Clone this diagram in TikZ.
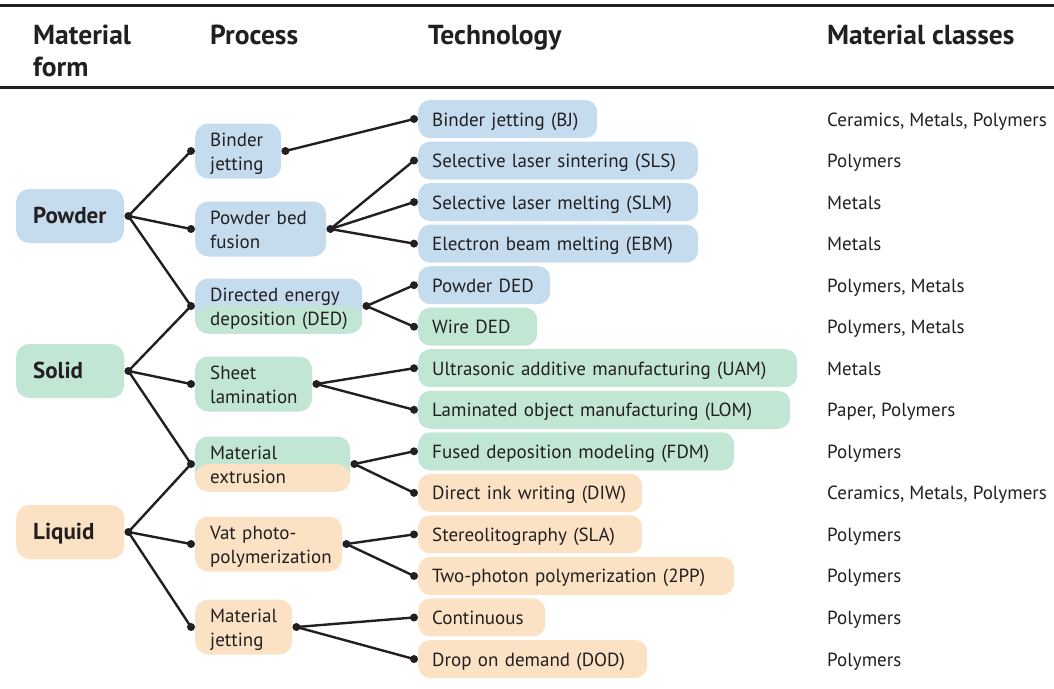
\documentclass[tikz,border=0pt]{standalone}
\usepackage{fontspec}
\setmainfont{PT Sans}
\definecolor{amblue}{RGB}{196,220,238}
\definecolor{amgreen}{RGB}{193,230,212}
\definecolor{amorange}{RGB}{252,226,197}
\definecolor{amtext}{RGB}{35,31,32}
\tikzstyle{rule}=[line width=3pt,draw=amtext]
\tikzstyle{head}=[anchor=north west,inner sep=0pt,align=left,text=amtext,font=\bfseries\fontsize{27.5}{32}\selectfont]
\tikzstyle{formbox}=[anchor=west,rounded corners=13pt,minimum height=54pt,inner xsep=17pt,text width=74pt,text height=16pt,text depth=2pt,text=amtext,font=\bfseries\fontsize{23}{27}\selectfont]
\tikzstyle{procbox}=[anchor=west,rounded corners=13pt,minimum height=55pt,inner xsep=15pt,inner ysep=0pt,align=left,text height=14pt,text depth=24pt,text=amtext,font=\fontsize{19}{24}\selectfont]
\tikzstyle{techbox}=[anchor=west,rounded corners=12pt,minimum height=38pt,inner xsep=14pt,inner ysep=0pt,text height=16pt,text depth=2pt,text=amtext,font=\fontsize{19}{24}\selectfont]
\tikzstyle{classtext}=[anchor=west,inner sep=0pt,text height=16pt,text depth=2pt,text=amtext,font=\fontsize{19}{24}\selectfont]
\tikzstyle{dot}=[circle,fill=amtext,inner sep=0pt,minimum size=8pt]
\tikzstyle{link}=[line width=2.4pt,draw=amtext]
% two-colour boxes: upper half one colour, lower half the other
\tikzstyle{bluegreen}=[fill=amblue,path picture={\fill[amgreen] (path picture bounding box.west) rectangle (path picture bounding box.south east);}]
\tikzstyle{greenorange}=[fill=amgreen,path picture={\fill[amorange] (path picture bounding box.west) rectangle (path picture bounding box.south east);}]

\begin{document}
\begin{tikzpicture}[x=1pt,y=-1pt]
    \useasboundingbox (0,0) rectangle (1054,688);

    % header
    \draw[rule] (0,5) -- (1054,5);
    \draw[rule] (0,87) -- (1054,87);
    \node[head] (hform) at (33,25) {Material\\form};
    \node[head] (hproc) at (210,25) {Process};
    \node[head] (htech) at (428,25) {Technology};
    \node[head] (hclass) at (827,25) {Material classes};

    % material forms
    \node[formbox,fill=amblue] (powder) at (16,216) {Powder};
    \node[formbox,fill=amgreen] (solid) at (16,371) {Solid};
    \node[formbox,fill=amorange] (liquid) at (16,532) {Liquid};
    \foreach \f in {powder,solid,liquid}
      \node[dot] (\f-r) at ([xshift=4pt]\f.east) {};

    % processes
    \node[procbox,fill=amblue,text width=56pt] (bj) at (195,151) {Binder\\jetting};
    \node[procbox,fill=amblue,text width=101pt] (pbf) at (195,229) {Powder~bed\\fusion};
    \node[procbox,bluegreen,text width=137pt] (ded) at (195,306) {Directed~energy\\deposition~(DED)};
    \node[procbox,fill=amgreen,text width=87pt] (sl) at (195,384) {Sheet\\lamination};
    \node[procbox,greenorange,text width=125pt] (me) at (195,464) {Material\\extrusion};
    \node[procbox,fill=amorange,text width=117pt] (vat) at (195,544) {Vat~photo-\\polymerization};
    \node[procbox,fill=amorange,text width=67pt] (mj) at (195,627) {Material\\jetting};
    \foreach \p in {bj,pbf,ded,sl,me,vat,mj}{
      \node[dot] (\p-l) at ([xshift=-4pt]\p.west) {};
      \node[dot] (\p-r) at ([xshift=4pt]\p.east) {};
    }

    % technologies and material classes, one row each
    \foreach \i/\n/\c/\w/\t/\m in {
      0/tbj/amblue/151/{Binder jetting (BJ)}/{Ceramics, Metals, Polymers},
      1/sls/amblue/252/{Selective laser sintering (SLS)}/{Polymers},
      2/slm/amblue/252/{Selective laser melting (SLM)}/{Metals},
      3/ebm/amblue/252/{Electron beam melting (EBM)}/{Metals},
      4/pded/amblue/104/{Powder DED}/{Polymers, Metals},
      5/wded/amgreen/91/{Wire DED}/{Polymers, Metals},
      6/uam/amgreen/351/{Ultrasonic additive manufacturing (UAM)}/{Metals},
      7/lom/amgreen/344/{Laminated object manufacturing (LOM)}/{Paper, Polymers},
      8/fdm/amgreen/288/{Fused deposition modeling (FDM)}/{Polymers},
      9/diw/amorange/196/{Direct ink writing (DIW)}/{Ceramics, Metals, Polymers},
      10/sla/amorange/196/{Stereolitography (SLA)}/{Polymers},
      11/tpp/amorange/288/{Two-photon polymerization (2PP)}/{Polymers},
      12/cont/amorange/99/{Continuous}/{Polymers},
      13/dod/amorange/201/{Drop on demand (DOD)}/{Polymers}}{
      \node[techbox,fill=\c,text width=\w pt] (\n) at (418,{119+41.54*\i}) {\t};
      \node[dot] (\n-l) at ([xshift=-4pt]\n.west) {};
      \node[classtext] (\n-m) at (827,{119+41.54*\i}) {\m};
    }

    % form -> process
    \foreach \f/\p in {powder/bj,powder/pbf,powder/ded,solid/ded,solid/sl,solid/me,liquid/me,liquid/vat,liquid/mj}
      \draw[link] (\f-r.center) -- (\p-l.center);
    % process -> technology
    \foreach \p/\t in {bj/tbj,pbf/sls,pbf/slm,pbf/ebm,ded/pded,ded/wded,sl/uam,sl/lom,me/fdm,me/diw,vat/sla,vat/tpp,mj/cont,mj/dod}
      \draw[link] (\p-r.center) -- (\t-l.center);
\end{tikzpicture}
\end{document}
